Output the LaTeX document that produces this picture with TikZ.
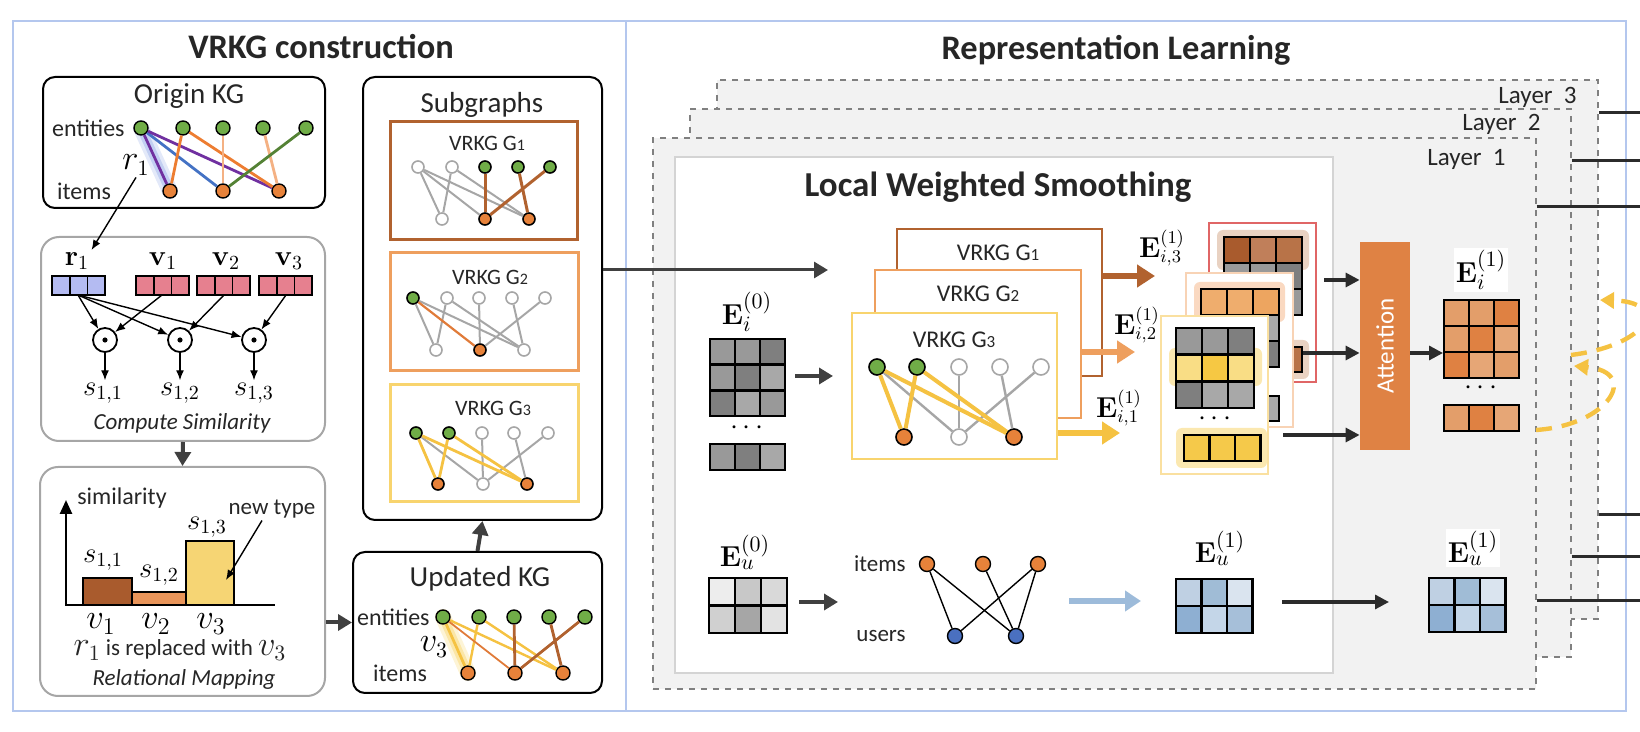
\documentclass[tikz,border=0pt]{standalone}
\usepackage[no-math]{fontspec}
\setmainfont{Carlito}
\usetikzlibrary{arrows.meta}
\pgfdeclarelayer{bg}
\pgfsetlayers{bg,main}

\definecolor{frameblue}{HTML}{B4C7EE}
\definecolor{dgray}{HTML}{262626}
\definecolor{kgray}{HTML}{2B2B2B}
\definecolor{arrgray}{HTML}{404040}
\definecolor{boxgray}{HTML}{A6A6A6}
\definecolor{laygray}{HTML}{808080}
\definecolor{layfill}{HTML}{F2F2F2}
\definecolor{lwsgray}{HTML}{D4D4D4}
\definecolor{ngreen}{HTML}{70AD47}
\definecolor{norange}{HTML}{E7823A}
\definecolor{nblue}{HTML}{4A70C0}
\definecolor{epurple}{HTML}{7030A0}
\definecolor{eblue}{HTML}{4472C4}
\definecolor{eorange}{HTML}{ED7D31}
\definecolor{epeach}{HTML}{F4B183}
\definecolor{egreen}{HTML}{548235}
\definecolor{egray}{HTML}{A6A6A6}
\definecolor{glowblue}{HTML}{8FA8E8}
\definecolor{glowyel}{HTML}{F9D977}
\definecolor{gbrown}{HTML}{B1622F}
\definecolor{gorange}{HTML}{EE9F5E}
\definecolor{gorange2}{HTML}{E07B39}
\definecolor{gyellow}{HTML}{F8D46E}
\definecolor{eyellow}{HTML}{F5C242}
\definecolor{rblue}{HTML}{B4BBF2}
\definecolor{vpink}{HTML}{E6808F}
\definecolor{bbrown}{HTML}{A95B2D}
\definecolor{borange}{HTML}{E9955A}
\definecolor{byellow}{HTML}{F6D574}
\definecolor{attn}{HTML}{DF8244}
\definecolor{ublue}{HTML}{9DBBDA}
\definecolor{ga}{HTML}{999999}
\definecolor{gb}{HTML}{7F7F7F}
\definecolor{gc}{HTML}{A8A8A8}
\definecolor{m1}{HTML}{A95B2D}
\definecolor{m2}{HTML}{C07F5A}
\definecolor{m3}{HTML}{B87348}
\definecolor{m4}{HTML}{B5703F}
\definecolor{n1}{HTML}{EFAD6D}
\definecolor{n2}{HTML}{EDA560}
\definecolor{y1}{HTML}{F9DD85}
\definecolor{y2}{HTML}{F6C843}
\definecolor{y3}{HTML}{F5C94A}
\definecolor{h3}{HTML}{E9D2C2}
\definecolor{h2}{HTML}{FAD9C1}
\definecolor{h1}{HTML}{FBE8B0}
\definecolor{c3red}{HTML}{E06666}
\definecolor{c2peach}{HTML}{F8D3B5}
\definecolor{c1yel}{HTML}{FAE0A0}
\definecolor{oa}{HTML}{E39E6A}
\definecolor{ob}{HTML}{DF8142}
\definecolor{oc}{HTML}{E6A676}
\definecolor{ua}{HTML}{EDEDED}
\definecolor{ub}{HTML}{C8C8C8}
\definecolor{uc}{HTML}{D9D9D9}
\definecolor{ud}{HTML}{D0D0D0}
\definecolor{ue}{HTML}{A6A6A6}
\definecolor{uf}{HTML}{E3E3E3}
\definecolor{pa}{HTML}{BFD0E3}
\definecolor{pb}{HTML}{A0BCD6}
\definecolor{pc}{HTML}{DAE4EF}
\definecolor{pd}{HTML}{8EAFD2}
\definecolor{pe}{HTML}{C4D6E8}
\definecolor{pf}{HTML}{A6BFD9}

\tikzset{
  ttl/.style={font=\bfseries\fontsize{17.2}{20}\selectfont,text=dgray},
  hd/.style={font=\fontsize{14.5}{17}\selectfont,text=dgray},
  sm/.style={font=\fontsize{12}{14}\selectfont,text=dgray,inner sep=1pt},
  itl/.style={font=\itshape\fontsize{11.5}{13}\selectfont,text=dgray},
  gt/.style={font=\fontsize{11}{13}\selectfont,text=dgray},
  mth/.style={font=\fontsize{14}{16}\selectfont,inner sep=1pt},
  kbox/.style={draw=black,line width=1pt,rounded corners=6pt,inner sep=0pt},
  gbox/.style={draw=boxgray,line width=1pt,rounded corners=9pt,inner sep=0pt},
  gn/.style={circle,draw=black,line width=0.7pt,inner sep=0pt,minimum size=7pt},
  sn/.style={circle,line width=0.8pt,inner sep=0pt,minimum size=6pt},
  dotc/.style={circle,draw=black,line width=0.9pt,inner sep=0pt,minimum size=12pt},
  cell/.style={draw=black,line width=1.3pt},
  vcell/.style={draw=black,line width=0.9pt},
  sarr/.style={line width=0.7pt,-{Latex[length=5pt,width=4pt]}},
  darr/.style={draw=arrgray,line width=2pt,-{Triangle[length=7pt,width=8pt]}},
  karr/.style={draw=kgray,line width=1.6pt,-{Triangle[length=7pt,width=7pt]}},
  barr/.style={line width=2.6pt,-{Triangle[length=9pt,width=11pt]}},
  lay/.style={draw=laygray,dashed,fill=layfill,line width=0.7pt,inner sep=0pt},
  card/.style={fill=white,line width=1.4pt,inner sep=0pt},
  outl/.style={draw=kgray,line width=1.5pt},
  ydash/.style={draw=eyellow,line width=2.2pt,dash pattern=on 8pt off 5pt,-{Triangle[length=7pt,width=8pt]}}
}

\begin{document}
\begin{tikzpicture}[x=0.5pt,y=-0.5pt]
\useasboundingbox (0,0) rectangle (1640,732);

% frame
\draw[frameblue,line width=0.8pt] (13,21) rectangle (1626,711);
\draw[frameblue,line width=0.8pt] (626,21) -- (626,711);

\node[ttl] (vrkgt) at (321,47) {VRKG construction};
\node[ttl] (replt) at (1116,50) {Representation Learning};

% origin kg
\node[kbox,minimum width=141pt,minimum height=65.5pt] (okg) at (184,142.5) {};
\node[hd] (okgt) at (189,96) {Origin KG};
\node[sm,anchor=east] (oent) at (127,128) {entities};
\node[sm] (oitm) at (84,191) {items};
\foreach \n/\x in {1/141,2/183,3/223,4/263,5/306}
  \node[gn,fill=ngreen] (oe\n) at (\x,128) {};
\foreach \n/\x in {1/170,2/223,3/279}
  \node[gn,fill=norange] (oi\n) at (\x,191) {};
\begin{pgfonlayer}{bg}
\draw[glowblue,line width=8pt,opacity=0.25,line cap=round] (oe1.center) -- (oi1.center);
\draw[glowblue,line width=4.5pt,opacity=0.4,line cap=round] (oe1.center) -- (oi1.center);
\end{pgfonlayer}
\foreach \a/\b/\c in {1/2/eblue,1/3/epurple,2/1/eorange,2/3/eorange,3/2/epeach,4/3/epeach,5/2/egreen,1/1/epurple}
  \draw[\c,line width=1.4pt] (oe\a) -- (oi\b);
\node[mth,font=\fontsize{16}{18}\selectfont] (r1o) at (136,165) {$r_1$};

% compute similarity
\node[gbox,minimum width=142pt,minimum height=102pt] (csb) at (183,339) {};
\node[mth] (rb) at (77,261) {$\mathbf{r}_1$};
\node[mth] (vb1) at (163,261) {$\mathbf{v}_1$};
\node[mth] (vb2) at (226,261) {$\mathbf{v}_2$};
\node[mth] (vb3) at (289,261) {$\mathbf{v}_3$};
\draw[sarr] (r1o.south) -- (rb.north east);
\foreach \k in {0,1,2} {
  \draw[vcell,fill=rblue] (52+17.7*\k,276) rectangle ++(17.7,19);
  \draw[vcell,fill=vpink] (136+17.7*\k,276) rectangle ++(17.7,19);
  \draw[vcell,fill=vpink] (197+17.7*\k,276) rectangle ++(17.7,19);
  \draw[vcell,fill=vpink] (259+17.7*\k,276) rectangle ++(17.7,19);
}
\coordinate (rv) at (78,295);
\coordinate (vv1) at (162,295);
\coordinate (vv2) at (224,295);
\coordinate (vv3) at (286,295);
\node[mth] (s1) at (103,393) {$s_{1,1}$};
\node[mth] (s2) at (180,393) {$s_{1,2}$};
\node[mth] (s3) at (254,393) {$s_{1,3}$};
\foreach \n/\x in {1/105,2/180,3/254} {
  \node[dotc] (dc\n) at (\x,340) {};
  \fill (dc\n.center) circle[radius=1.3pt];
  \draw[sarr] (rv) -- (dc\n);
  \draw[sarr] (vv\n) -- (dc\n);
  \draw[sarr] (dc\n) -- (dc\n |- s\n.north);
}
\node[itl] (cst) at (182,423) {Compute Similarity};

% relational mapping
\node[gbox,minimum width=142.5pt,minimum height=114.5pt] (rmb) at (182.5,581.5) {};
\draw[darr] (csb.south) -- (rmb.north);
\draw[line width=1.3pt,-{Triangle[length=7pt,width=6pt]}] (66,606) -- (66,500);
\draw[line width=1.3pt] (65,605) -- (275,605);
\draw[vcell,fill=bbrown] (83,578) rectangle (132,605);
\draw[vcell,fill=borange] (132,592) rectangle (186,605);
\draw[vcell,fill=byellow] (186,541) rectangle (234,605);
\node[sm] (simt) at (122,498) {similarity};
\node[mth] (s11) at (103,560) {$s_{1,1}$};
\node[mth] (s12) at (159,575) {$s_{1,2}$};
\node[mth] (s13) at (207,527) {$s_{1,3}$};
\node[sm,font=\fontsize{11.5}{13}\selectfont] (ntype) at (272,509) {new type};
\coordinate (v3bar) at (226,580);
\draw[sarr] ([xshift=-5pt]ntype.south) -- (v3bar);
\node[mth,font=\fontsize{17}{19}\selectfont] (xv1) at (101,624) {$v_1$};
\node[mth,font=\fontsize{17}{19}\selectfont] (xv2) at (156,624) {$v_2$};
\node[mth,font=\fontsize{17}{19}\selectfont] (xv3) at (211,624) {$v_3$};
\node[sm,font=\fontsize{11.5}{13}\selectfont] (repl) at (180,650) {{\fontsize{16}{16}\selectfont$r_1$} is replaced with {\fontsize{16}{16}\selectfont$v_3$}};
\node[itl] (rmt) at (184,679) {Relational Mapping};

% updated kg
\node[kbox,minimum width=124.5pt,minimum height=70.5pt] (ukg) at (477.5,622.5) {};
\draw[darr] (rmb.east |- ukg) -- (ukg.west);
\node[hd] (ukgt) at (480,579) {Updated KG};
\node[sm,anchor=east] (uent) at (432,617) {entities};
\node[sm] (uitm) at (400,673) {items};
\foreach \n/\x in {1/443,2/479,3/514,4/549,5/585}
  \node[gn,fill=ngreen] (ue\n) at (\x,617) {};
\foreach \n/\x in {1/468,2/515,3/563}
  \node[gn,fill=norange] (ui\n) at (\x,673) {};
\begin{pgfonlayer}{bg}
\draw[glowyel,line width=8pt,opacity=0.3,line cap=round] (ue1.center) -- (ui1.center);
\draw[glowyel,line width=4.5pt,opacity=0.5,line cap=round] (ue1.center) -- (ui1.center);
\end{pgfonlayer}
\foreach \a/\b/\c/\w in {1/3/eyellow/1.2pt,2/1/eyellow/1.2pt,2/3/eyellow/1.2pt,1/1/eyellow/1.4pt,1/2/gorange2/0.9pt,3/2/gbrown/1.4pt,4/3/gbrown/1.4pt,5/2/gbrown/1.4pt}
  \draw[\c,line width=\w] (ue\a) -- (ui\b);
\node[mth,font=\fontsize{16}{18}\selectfont] (v3u) at (434,647) {$v_3$};

% subgraphs
\node[kbox,minimum width=119.5pt,minimum height=221.5pt] (sub) at (482.5,298.5) {};
\draw[darr] (ukg.north) -- (sub.south);
\node[hd] (subt) at (482,105) {Subgraphs};
\draw[gbrown,line width=1.5pt] (390,122) rectangle (577,240);
\draw[gorange,line width=1.5pt] (390,253) rectangle (578,371);
\draw[gyellow,line width=1.5pt] (390,385) rectangle (578,502);
\node[gt] (g1t) at (487,143) {VRKG G{\fontsize{8}{8}\selectfont 1}};
\node[gt] (g2t) at (490,277) {VRKG G{\fontsize{8}{8}\selectfont 2}};
\node[gt] (g3t) at (493,408) {VRKG G{\fontsize{8}{8}\selectfont 3}};

\foreach \n/\x/\f/\d in {1/418/white/egray,2/452/white/egray,3/485/ngreen/black,4/518/ngreen/black,5/550/ngreen/black}
  \node[sn,fill=\f,draw=\d] (ae\n) at (\x,167) {};
\foreach \n/\x/\f/\d in {1/442/white/egray,2/485/norange/black,3/529/norange/black}
  \node[sn,fill=\f,draw=\d] (ai\n) at (\x,219) {};
\foreach \a/\b/\c/\w in {1/1/egray/1pt,1/2/egray/1pt,1/3/egray/1pt,2/1/egray/1pt,2/3/egray/1pt,3/2/gbrown/1.5pt,4/3/gbrown/1.5pt,5/2/gbrown/1.5pt}
  \draw[\c,line width=\w] (ae\a) -- (ai\b);

\foreach \n/\x/\f/\d in {1/413/ngreen/black,2/447/white/egray,3/479/white/egray,4/512/white/egray,5/545/white/egray}
  \node[sn,fill=\f,draw=\d] (be\n) at (\x,298) {};
\foreach \n/\x/\f/\d in {1/436/white/egray,2/480/norange/black,3/524/white/egray}
  \node[sn,fill=\f,draw=\d] (bi\n) at (\x,350) {};
\foreach \a/\b/\c/\w in {1/1/egray/1pt,1/3/egray/1pt,2/1/egray/1pt,2/3/egray/1pt,3/2/egray/1pt,4/3/egray/1pt,5/2/egray/1pt,1/2/gorange2/1.1pt}
  \draw[\c,line width=\w] (be\a) -- (bi\b);

\foreach \n/\x/\f/\d in {1/416/ngreen/black,2/449/ngreen/black,3/482/white/egray,4/514/white/egray,5/548/white/egray}
  \node[sn,fill=\f,draw=\d] (ce\n) at (\x,433) {};
\foreach \n/\x/\f/\d in {1/438/norange/black,2/483/white/egray,3/527/norange/black}
  \node[sn,fill=\f,draw=\d] (ci\n) at (\x,484) {};
\foreach \a/\b/\c/\w in {1/2/egray/1pt,3/2/egray/1pt,4/3/egray/1pt,5/2/egray/1pt,1/1/eyellow/1.4pt,2/1/eyellow/1.4pt,1/3/eyellow/1.4pt,2/3/eyellow/1.4pt}
  \draw[\c,line width=\w] (ce\a) -- (ci\b);

% layers
\node[lay,minimum width=440.5pt,minimum height=269.5pt] (lay3) at (1157.5,349.5) {};
\node[sm,anchor=east,font=\fontsize{12.5}{14}\selectfont] (lay3t) at (1579,97) {Layer~~3};
\node[lay,minimum width=440.5pt,minimum height=274pt] (lay2) at (1130.5,383) {};
\node[sm,anchor=east,font=\fontsize{12.5}{14}\selectfont] (lay2t) at (1543,124) {Layer~~2};
\node[lay,minimum width=441.5pt,minimum height=275.5pt] (lay1) at (1094.5,413.5) {};
\node[sm,anchor=east,font=\fontsize{12.5}{14}\selectfont] (lay1t) at (1508,159) {Layer~~1};
\foreach \n/\ya/\yb in {3/113/515,2/161/557,1/207/601} {
  \coordinate (ta\n) at (1640,\ya);
  \coordinate (tb\n) at (1640,\yb);
  \draw[outl] (lay\n.east |- ta\n) -- (ta\n);
  \draw[outl] (lay\n.east |- tb\n) -- (tb\n);
}
\coordinate (l1o) at (1536,430);
\coordinate (l2i) at (1574,366);
\coordinate (l2o) at (1571,355);
\coordinate (l3i) at (1600,300);
\draw[ydash] (l1o) .. controls (1610,425) and (1640,372) .. (l2i);
\draw[ydash] (l2o) .. controls (1650,345) and (1670,302) .. (l3i);

% local weighted smoothing
\node[fill=white,draw=lwsgray,line width=0.6pt,minimum width=329pt,minimum height=258pt,inner sep=0pt] (lws) at (1004,415) {};
\node[ttl,font=\bfseries\fontsize{17.5}{20}\selectfont] (lwst) at (998,187) {Local Weighted Smoothing};
\coordinate (lwsin) at (828,270);
\draw[darr,line width=1.5pt] ([yshift=14.25pt]sub.east) -- (lwsin);

\node[mth,font=\fontsize{15}{17}\selectfont] (ei0) at (747,312) {$\mathbf{E}_i^{(0)}$};
\foreach \row [count=\j from 0] in {{ga,ga,gb},{ga,gb,gc},{gb,gc,ga}}
  \foreach \c [count=\k from 0] in \row
    \draw[cell,fill=\c] (710+25*\k,339+25.7*\j) rectangle ++(25,25.7);
\node[mth] (ei0d) at (747,428) {$\cdots$};
\foreach \c [count=\k from 0] in {ga,gb,gc}
  \draw[cell,fill=\c] (710+25*\k,444) rectangle ++(25,26);
\coordinate (ei0o) at (795,376);
\coordinate (gin) at (833,376);
\draw[darr] (ei0o) -- (gin);

\node[card,draw=gbrown,minimum width=102.5pt,minimum height=73.5pt] (lg1) at (999.5,302.5) {};
\node[gt,font=\fontsize{12}{14}\selectfont] (lg1t) at (998,253) {VRKG G{\fontsize{8.5}{9}\selectfont 1}};
\node[card,draw=gorange,minimum width=103pt,minimum height=74pt] (lg2) at (978,344) {};
\node[gt,font=\fontsize{12}{14}\selectfont] (lg2t) at (978,294) {VRKG G{\fontsize{8.5}{9}\selectfont 2}};
\node[card,draw=gyellow,minimum width=102.5pt,minimum height=73pt] (lg3) at (954.5,386) {};
\node[gt,font=\fontsize{12}{14}\selectfont] (lg3t) at (954,340) {VRKG G{\fontsize{8.5}{9}\selectfont 3}};
\foreach \n/\x/\f/\d in {1/877/ngreen/black,2/917/ngreen/black,3/959/white/egray,4/1000/white/egray,5/1041/white/egray}
  \node[sn,minimum size=8pt,fill=\f,draw=\d] (le\n) at (\x,367) {};
\foreach \n/\x/\f/\d in {1/904/norange/black,2/959/white/egray,3/1014/norange/black}
  \node[sn,minimum size=8pt,fill=\f,draw=\d] (li\n) at (\x,437) {};
\foreach \a/\b/\c/\w in {1/2/egray/1.2pt,3/2/egray/1.2pt,4/3/egray/1.2pt,5/2/egray/1.2pt,1/1/eyellow/2pt,2/1/eyellow/2pt,1/3/eyellow/2pt,2/3/eyellow/2pt}
  \draw[\c,line width=\w] (le\a) -- (li\b);

\coordinate (o3) at (1155,276);
\coordinate (o2) at (1135,352);
\coordinate (o1) at (1120,433);
\draw[barr,draw=gbrown] ([yshift=13.25pt]lg1.east) -- (o3);
\draw[barr,draw=gorange] ([yshift=-4pt]lg2.east) -- (o2);
\draw[barr,draw=eyellow] ([yshift=-23.5pt]lg3.east) -- (o1);
\node[mth,font=\fontsize{13.5}{15}\selectfont] (ei3) at (1162,248) {$\mathbf{E}_{i,3}^{(1)}$};
\node[mth,font=\fontsize{13.5}{15}\selectfont] (ei2) at (1137,325) {$\mathbf{E}_{i,2}^{(1)}$};
\node[mth,font=\fontsize{13.5}{15}\selectfont] (ei1) at (1119,408) {$\mathbf{E}_{i,1}^{(1)}$};

% stacked outputs
\node[card,draw=c3red,line width=0.6pt,minimum width=53.5pt,minimum height=79.5pt] (ec3) at (1262.5,302.5) {};
\fill[h3,rounded corners=3pt] (1217,230) rectangle (1309,270);
\fill[h3,rounded corners=3pt] (1217,340) rectangle (1309,379);
\foreach \row [count=\j from 0] in {{m1,m2,m3},{ga,ga,gb},{gb,gc,ga}}
  \foreach \c [count=\k from 0] in \row
    \draw[cell,fill=\c] (1224+26*\k,237+26*\j) rectangle ++(26,26);
\foreach \c [count=\k from 0] in {m4,m2,m3}
  \draw[cell,fill=\c] (1224+26*\k,347) rectangle ++(26,25);

\node[card,draw=c2peach,line width=0.6pt,minimum width=53.5pt,minimum height=77pt] (ec2) at (1239.5,350) {};
\fill[h2,rounded corners=3pt] (1194,282) rectangle (1285,322);
\foreach \row [count=\j from 0] in {{n1,n1,n2},{ga,gb,gc},{gc,ga,gb}}
  \foreach \c [count=\k from 0] in \row
    \draw[cell,fill=\c] (1201+26*\k,289+26*\j) rectangle ++(26,26);
\foreach \c [count=\k from 0] in {ga,gb,gc}
  \draw[cell,fill=\c] (1201+26*\k,396) rectangle ++(26,25);

\node[card,draw=c1yel,line width=0.6pt,minimum width=53.5pt,minimum height=79pt] (ec1) at (1214.5,395) {};
\fill[h1,rounded corners=3pt] (1169,348) rectangle (1262,386);
\foreach \row [count=\j from 0] in {{ga,ga,gb},{y1,y2,y1},{gb,gc,gc}}
  \foreach \c [count=\k from 0] in \row
    \draw[cell,fill=\c] (1176+26*\k,328+26.7*\j) rectangle ++(26,26.7);
\node[mth] (ec1d) at (1215,419) {$\cdots$};
\fill[h1,rounded corners=3pt] (1176,428) rectangle (1267,468);
\foreach \c [count=\k from 0] in {y3,y3,y3}
  \draw[cell,fill=\c] (1184+25.5*\k,435) rectangle ++(25.5,26);

% attention
\node[fill=attn,minimum width=25pt,minimum height=104pt,inner sep=0pt] (att) at (1385,346) {};
\node[rotate=90,text=white,font=\fontsize{12.5}{14}\selectfont] (attt) at (att) {Attention};
\coordinate (a3) at (1324,280);
\coordinate (a2) at (1303,353);
\coordinate (a1) at (1283,435);
\foreach \n in {1,2,3}
  \draw[karr] (a\n) -- (att.west |- a\n);

\node[mth,fill=white,font=\fontsize{15}{17}\selectfont] (ei1b) at (1481,270) {$\mathbf{E}_i^{(1)}$};
\foreach \row [count=\j from 0] in {{oa,oa,ob},{oa,ob,oc},{ob,oc,oa}}
  \foreach \c [count=\k from 0] in \row
    \draw[cell,fill=\c] (1444+25*\k,300+26*\j) rectangle ++(25,26);
\node[mth] (ei1d) at (1481,388) {$\cdots$};
\foreach \c [count=\k from 0] in {oa,ob,oc}
  \draw[cell,fill=\c] (1444+25*\k,405) rectangle ++(25,26);
\coordinate (eiin) at (1443,353);
\draw[karr] (att.east |- eiin) -- (eiin);

% user side
\node[mth,font=\fontsize{15}{17}\selectfont] (eu0) at (745,552) {$\mathbf{E}_u^{(0)}$};
\foreach \row [count=\j from 0] in {{ua,ub,uc},{ud,ue,uf}}
  \foreach \c [count=\k from 0] in \row
    \draw[cell,fill=\c] (709+26*\k,578+27.5*\j) rectangle ++(26,27.5);
\coordinate (eu0o) at (799,602);
\coordinate (bgin) at (838,602);
\draw[darr] (eu0o) -- (bgin);

\node[sm,anchor=east,font=\fontsize{11.5}{13}\selectfont] (bitm) at (908,564) {items};
\node[sm,anchor=east,font=\fontsize{11.5}{13}\selectfont] (busr) at (908,636) {users};
\foreach \n/\x in {1/927,2/983,3/1038}
  \node[gn,minimum size=7.5pt,fill=norange] (it\n) at (\x,564) {};
\foreach \n/\x in {1/955,2/1016}
  \node[gn,minimum size=7.5pt,fill=nblue] (us\n) at (\x,636) {};
\foreach \a/\b in {1/1,1/2,2/2,3/1,3/2}
  \draw[line width=0.7pt] (it\a) -- (us\b);

\coordinate (ub1) at (1069,601);
\coordinate (ub2) at (1141,601);
\draw[line width=3pt,draw=ublue,-{Triangle[length=8pt,width=10pt]}] (ub1) -- (ub2);

\node[mth,font=\fontsize{15}{17}\selectfont] (eu1) at (1220,548) {$\mathbf{E}_u^{(1)}$};
\foreach \row [count=\j from 0] in {{pa,pb,pc},{pd,pe,pf}}
  \foreach \c [count=\k from 0] in \row
    \draw[cell,fill=\c] (1176+25.5*\k,579+27*\j) rectangle ++(25.5,27);
\coordinate (eu1o) at (1282,602);
\coordinate (eu2i) at (1389,602);
\draw[karr] (eu1o) -- (eu2i);

\node[mth,fill=white,font=\fontsize{15}{17}\selectfont] (eu2) at (1473,548) {$\mathbf{E}_u^{(1)}$};
\foreach \row [count=\j from 0] in {{pa,pb,pc},{pd,pe,pf}}
  \foreach \c [count=\k from 0] in \row
    \draw[cell,fill=\c] (1429+25.5*\k,578+27*\j) rectangle ++(25.5,27);

\end{tikzpicture}
\end{document}
